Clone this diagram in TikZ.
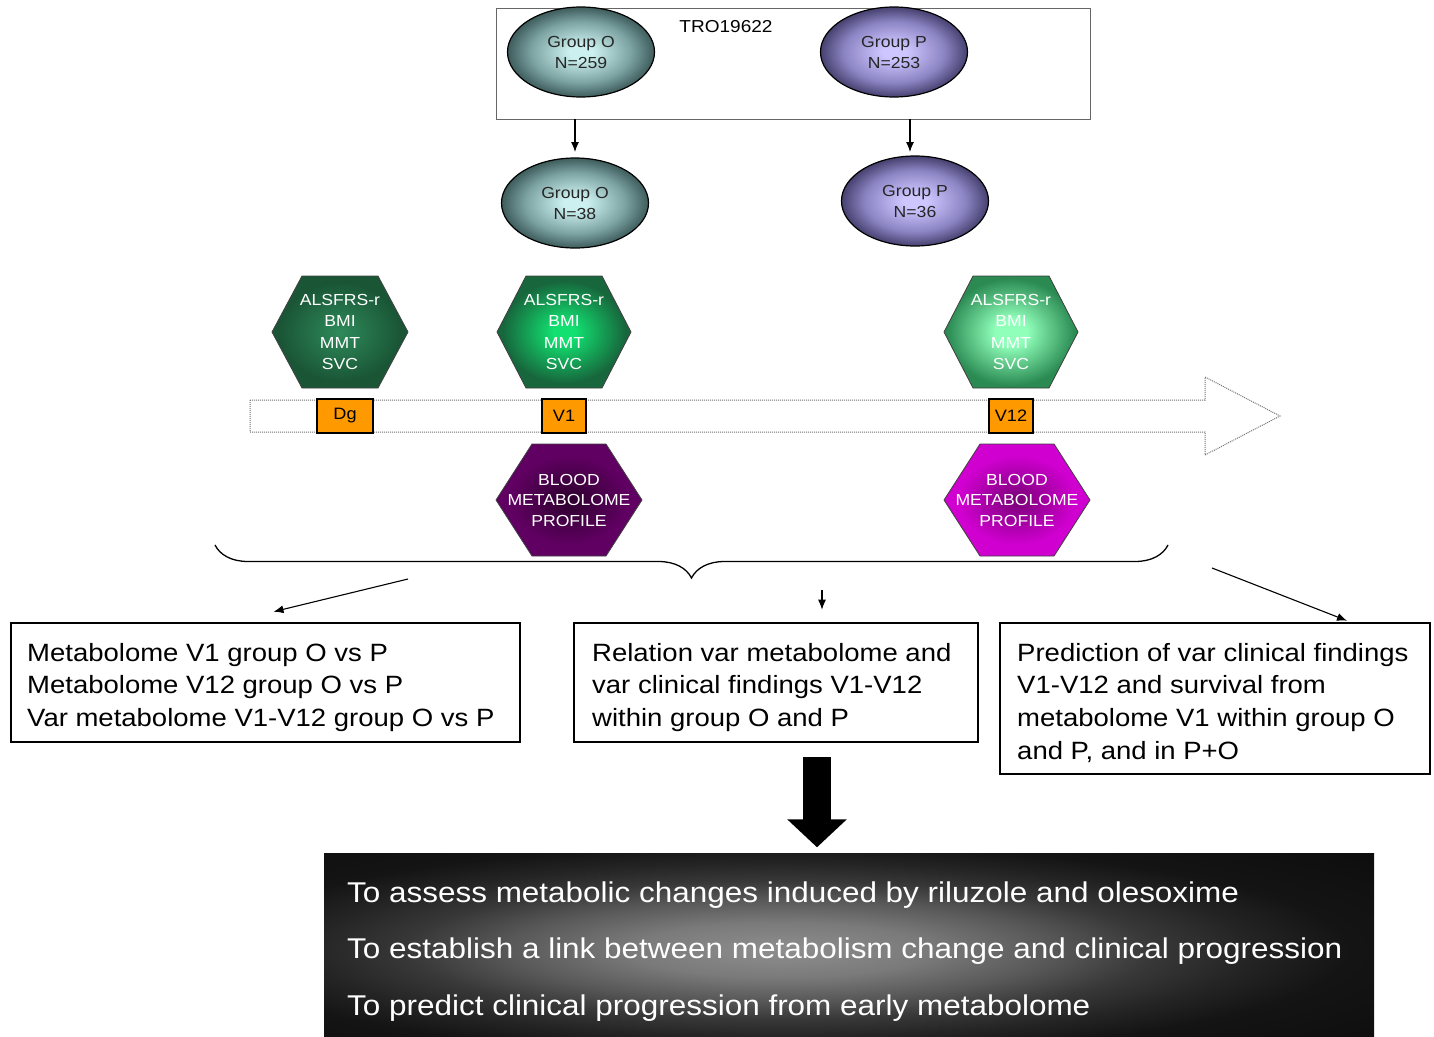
\documentclass[tikz,border=0pt]{standalone}
\usepackage{fontspec}
\setmainfont{Liberation Sans}[FakeStretch=1.1]
\usetikzlibrary{shapes.geometric,arrows.meta,decorations.pathreplacing}
\definecolor{Oin}{HTML}{CCF0F0}
\definecolor{Omid}{HTML}{7CA2A2}
\definecolor{Oout}{HTML}{3E5C5C}
\definecolor{Pin}{HTML}{CEC6FF}
\definecolor{Pmid}{HTML}{8C85C4}
\definecolor{Pout}{HTML}{46416F}
\definecolor{GAin}{HTML}{2E8A5A}
\definecolor{GAout}{HTML}{1A5636}
\definecolor{GBin}{HTML}{12E070}
\definecolor{GBout}{HTML}{17663C}
\definecolor{GCin}{HTML}{90FFBA}
\definecolor{GCout}{HTML}{2A8A52}
\definecolor{UAin}{HTML}{2C002C}
\definecolor{UAout}{HTML}{600062}
\definecolor{UBin}{HTML}{780076}
\definecolor{UBout}{HTML}{D000D0}
\definecolor{orangeV}{HTML}{FF9900}
\definecolor{goalA}{HTML}{8E8E8E}
\definecolor{goalB}{HTML}{7A7A7A}
\definecolor{goalC}{HTML}{585858}
\definecolor{goalD}{HTML}{383838}
\definecolor{goalE}{HTML}{242424}
\definecolor{goalF}{HTML}{141414}
% radial shadings: the bounding box edge of the shaded path lies at 25bp
\pgfdeclareradialshading{shO}{\pgfpointorigin}{color(0bp)=(Oin); color(4bp)=(Oin); color(17bp)=(Omid); color(25bp)=(Oout); color(50bp)=(Oout)}
\pgfdeclareradialshading{shP}{\pgfpointorigin}{color(0bp)=(Pin); color(4bp)=(Pin); color(17bp)=(Pmid); color(25bp)=(Pout); color(50bp)=(Pout)}
\pgfdeclareradialshading{shGA}{\pgfpointorigin}{color(0bp)=(GAin); color(22bp)=(GAout); color(50bp)=(GAout)}
\pgfdeclareradialshading{shGB}{\pgfpointorigin}{color(0bp)=(GBin); color(4bp)=(GBin); color(23bp)=(GBout); color(50bp)=(GBout)}
\pgfdeclareradialshading{shGC}{\pgfpointorigin}{color(0bp)=(GCin); color(6bp)=(GCin); color(24bp)=(GCout); color(50bp)=(GCout)}
\pgfdeclareradialshading{shUA}{\pgfpointorigin}{color(0bp)=(UAin); color(20bp)=(UAout); color(50bp)=(UAout)}
\pgfdeclareradialshading{shUB}{\pgfpointorigin}{color(0bp)=(UBin); color(20bp)=(UBout); color(50bp)=(UBout)}
\pgfdeclareradialshading{shGoal}{\pgfpointorigin}{color(0bp)=(goalA); color(6bp)=(goalB); color(11bp)=(goalC); color(15bp)=(goalD); color(19bp)=(goalE); color(23bp)=(goalF); color(50bp)=(black)}
\begin{document}
\begin{tikzpicture}[x=1pt,y=-1pt,
  grp/.style={ellipse, draw=black, line width=1.2pt, minimum width=147, minimum height=90, inner sep=0pt, align=center, font=\fontsize{16}{21}\selectfont, text=black!85, shade},
  hextext/.style={align=center, text=white, inner sep=0pt, font=\fontsize{16}{21.5}\selectfont},
  bloodtext/.style={align=center, text=white, inner sep=0pt, font=\fontsize{16}{20.5}\selectfont},
  hexG/.style={draw=black!75, line width=0.8pt, shade},
  visit/.style={draw=black, line width=1.2pt, fill=orangeV, minimum width=44, minimum height=34, inner sep=0pt, font=\fontsize{16.5}{18}\selectfont},
  resbox/.style={draw=black, line width=2.6pt, fill=white, inner sep=0pt},
  restext/.style={anchor=base west, inner sep=0pt, font=\fontsize{25}{30}\selectfont},
  goaltext/.style={anchor=base west, inner sep=0pt, text=white, font=\fontsize{28.6}{32}\selectfont},
  arr/.style={-{Latex[length=10pt,width=8pt]}, line width=1.1pt}
]
\useasboundingbox (0,0) rectangle (1434,1036);

% top study box
\node[draw=black!60, line width=0.8pt, minimum width=594, minimum height=111, inner sep=0pt] (tro) at (793,63.5) {};
\node[inner sep=0pt, font=\fontsize{17.3}{20}\selectfont] (trolabel) at (726,27) {TRO19622};

\node[grp, shading=shO] (gO1) at (581,52) {Group O\\N=259};
\node[grp, shading=shP] (gP1) at (894,52) {Group P\\N=253};
\node[grp, shading=shO] (gO2) at (575,203) {Group O\\N=38};
\node[grp, shading=shP] (gP2) at (915,201) {Group P\\N=36};

\coordinate (aO) at (575,119);
\coordinate (aP) at (910,119);
\draw[arr] (aO) -- (575,152);
\draw[arr] (aP) -- (910,152);

% clinical hexagons
\path[hexG, shading=shGA] (272,332) -- (302,276) -- (378,276) -- (408,332) -- (378,388) -- (302,388) -- cycle;
\path[hexG, shading=shGB] (497,332) -- (526,276) -- (602,276) -- (631,332) -- (602,388) -- (526,388) -- cycle;
\path[hexG, shading=shGC] (944,332) -- (973,276) -- (1049,276) -- (1078,332) -- (1049,388) -- (973,388) -- cycle;
\node[hextext] (hDg) at (340,332) {ALSFRS-r\\BMI\\MMT\\SVC};
\node[hextext] (hV1) at (564,332) {ALSFRS-r\\BMI\\MMT\\SVC};
\node[hextext] (hV12) at (1011,332) {ALSFRS-r\\BMI\\MMT\\SVC};

% timeline arrow
\draw[densely dotted, draw=black!55, line width=1pt, fill=white] (250,400) -- (1205,400) -- (1205,377) -- (1280,416) -- (1205,455) -- (1205,432) -- (250,432) -- cycle;
\node[visit, minimum width=56] (dg) at (345,416) {Dg};
\node[visit] (v1) at (564,416) {V1};
\node[visit] (v12) at (1011,416) {V12};

% metabolome hexagons
\path[hexG, shading=shUA] (496,500) -- (532,444) -- (606,444) -- (642,500) -- (606,556) -- (532,556) -- cycle;
\path[hexG, shading=shUB] (944,500) -- (980,444) -- (1054,444) -- (1090,500) -- (1054,556) -- (980,556) -- cycle;
\node[bloodtext] (bV1) at (569,500) {BLOOD\\METABOLOME\\PROFILE};
\node[bloodtext] (bV12) at (1017,500) {BLOOD\\METABOLOME\\PROFILE};

% brace
\coordinate (brL) at (215,545);
\coordinate (brR) at (1168,545);
\draw[decorate, decoration={brace, amplitude=33pt}, line width=1.3pt] (brR) -- (brL);

% result boxes
\node[resbox, minimum width=509, minimum height=119] (box1) at (265.5,682.5) {};
\node[resbox, minimum width=404, minimum height=119] (box2) at (776,682.5) {};
\node[resbox, minimum width=430, minimum height=151] (box3) at (1215,698.5) {};

\node[restext] (t11) at (27,661) {Metabolome V1 group O vs P};
\node[restext] (t12) at (27,693) {Metabolome V12 group O vs P};
\node[restext] (t13) at (27,726) {Var metabolome V1-V12 group O vs P};
\node[restext] (t21) at (592,661) {Relation var metabolome and};
\node[restext] (t22) at (592,693) {var clinical findings V1-V12};
\node[restext] (t23) at (592,726) {within group O and P};
\node[restext] (t31) at (1017,661) {Prediction of var clinical findings};
\node[restext] (t32) at (1017,693) {V1-V12 and survival from};
\node[restext] (t33) at (1017,726) {metabolome V1 within group O};
\node[restext] (t34) at (1017,759) {and P, and in P+O};

\coordinate (aL) at (408,579);
\coordinate (aM) at (822,590);
\coordinate (aR) at (1212,568);
\draw[arr] (aL) -- ([xshift=8pt,yshift=10pt]box1.north);
\draw[arr] (aM) -- ([xshift=46pt,yshift=12pt]box2.north);
\draw[arr] (aR) -- ([xshift=132pt,yshift=1pt]box3.north);

% goal box
\node[fill=black, minimum width=1050, minimum height=185, inner sep=0pt] (goal) at (849,945) {};
\begin{scope}
\clip (324,853) rectangle (1374,1037);
\shade[shading=shGoal] (160,835) rectangle (1400,1065);
\end{scope}
\coordinate (bigS) at (817,757);
\draw[line width=28pt, -{Triangle[width=58pt,length=28pt]}] (bigS) -- ([yshift=5pt]goal.north -| bigS);

\node[goaltext] (g1) at (347,902) {To assess metabolic changes induced by riluzole and olesoxime};
\node[goaltext] (g2) at (347,958) {To establish a link between metabolism change and clinical progression};
\node[goaltext] (g3) at (347,1015) {To predict clinical progression from early metabolome};
\end{tikzpicture}
\end{document}
